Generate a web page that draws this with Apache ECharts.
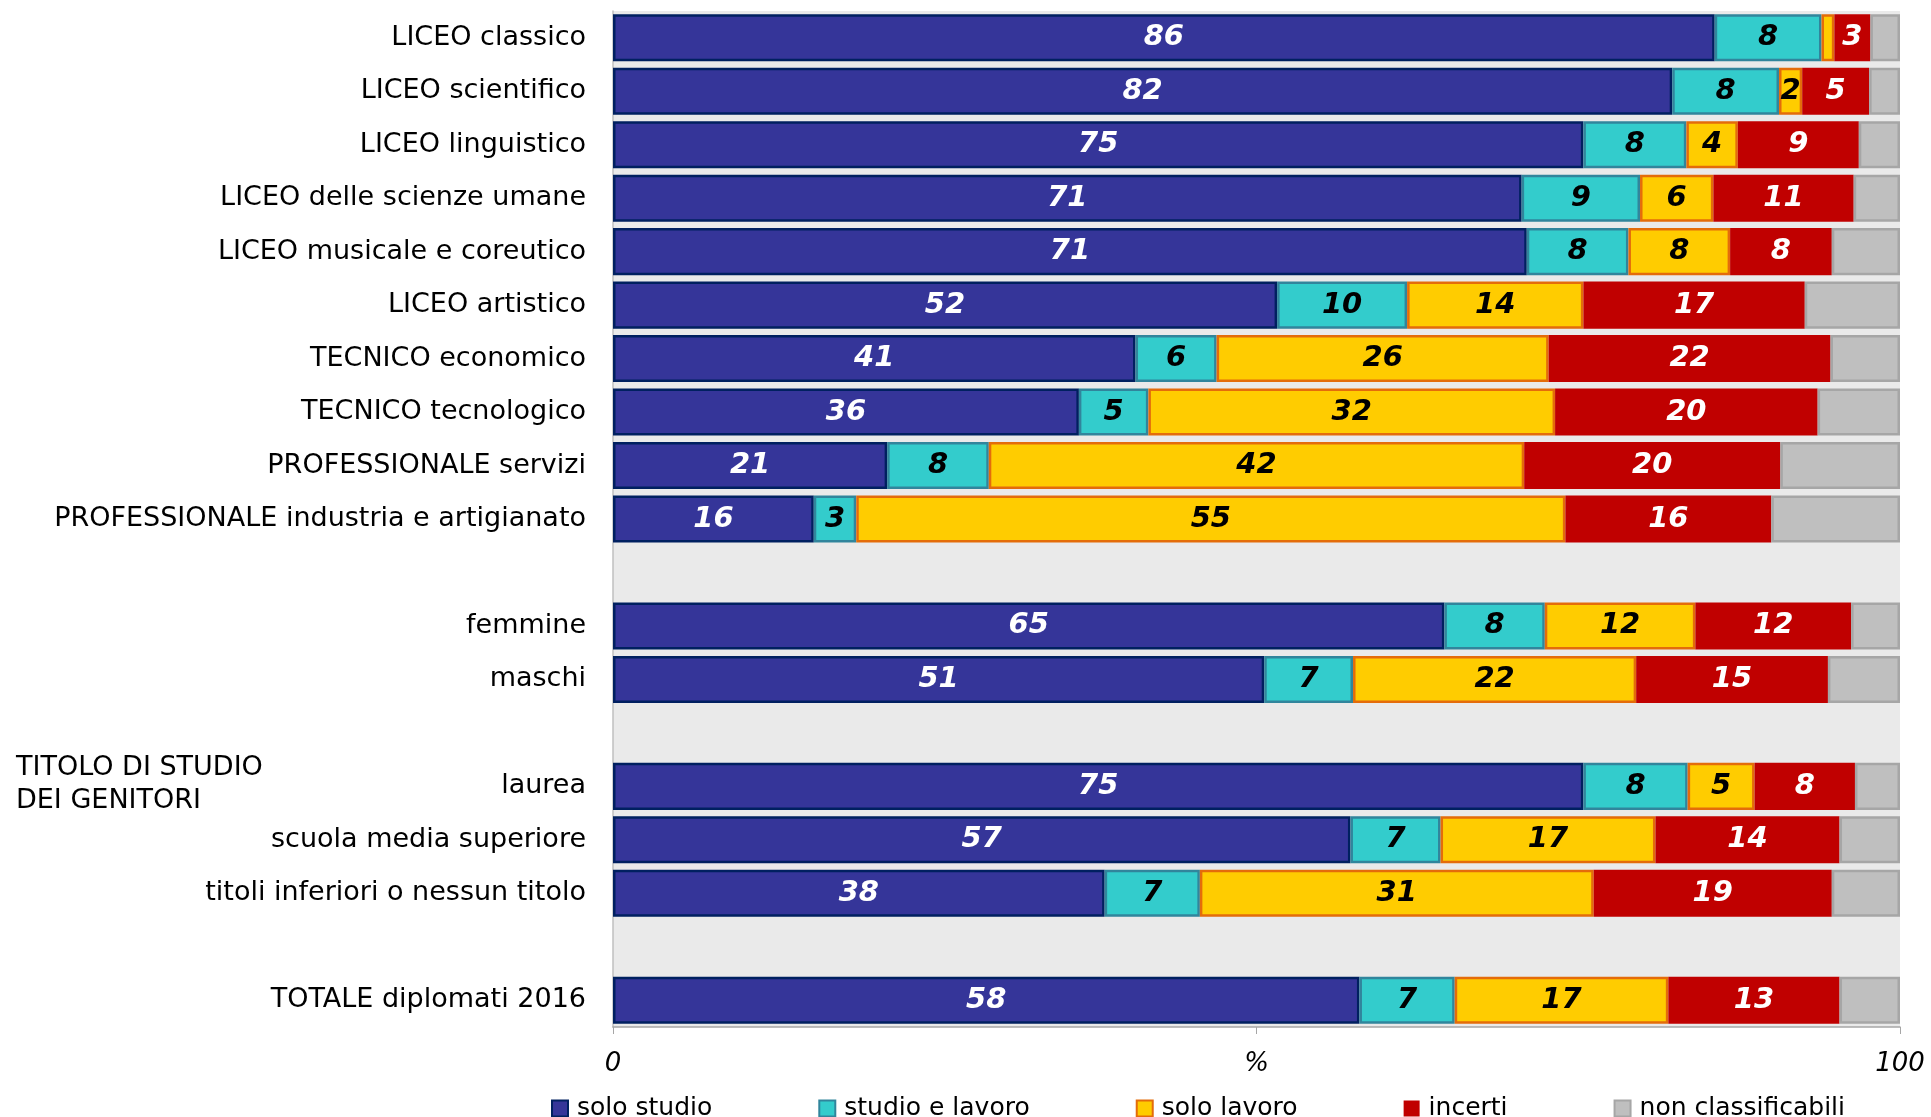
<!DOCTYPE html>
<html>
<head>
<meta charset="utf-8">
<script src="https://cdn.jsdelivr.net/npm/echarts@6/dist/echarts.min.js"></script>
<style>
html,body{margin:0;padding:0;background:#fff;}
#wrap{width:1931px;height:1117px;}
</style>
</head>
<body>
<div id="wrap"></div>
<script>
// categories, top to bottom ('' = empty separator row)
var categories = ['LICEO classico', 'LICEO scientifico', 'LICEO linguistico', 'LICEO delle scienze umane',
    'LICEO musicale e coreutico', 'LICEO artistico', 'TECNICO economico', 'TECNICO tecnologico',
    'PROFESSIONALE servizi', 'PROFESSIONALE industria e artigianato', '',
    'femmine', 'maschi', ' ',
    'laurea', 'scuola media superiore', 'titoli inferiori o nessun titolo', '  ',
    'TOTALE diplomati 2016'];

var soloStudio    = [85.6, 82.3, 75.4, 70.6, 71.0, 51.6, 40.6, 36.2, 21.3, 15.6, null, 64.6, 50.6, null, 75.4, 57.3, 38.2, null, 58.0];
var studioLavoro  = [8.3, 8.3, 8.0, 9.2, 7.9, 10.1, 6.3, 5.4, 7.9, 3.3, null, 7.8, 6.9, null, 8.1, 7.0, 7.4, null, 7.4];
var soloLavoro    = [1.0, 1.8, 4.0, 5.7, 7.9, 13.7, 25.8, 31.6, 41.6, 55.1, null, 11.7, 22.0, null, 5.2, 16.7, 30.6, null, 16.6];
var incerti       = [2.8, 5.2, 9.4, 10.9, 7.9, 17.2, 21.9, 20.4, 19.9, 16.0, null, 12.1, 14.9, null, 7.8, 14.3, 18.5, null, 13.3];
var nonClass      = [2.3, 2.4, 3.2, 3.6, 5.3, 7.4, 5.4, 6.4, 9.3, 10.0, null, 3.8, 5.6, null, 3.5, 4.7, 5.3, null, 4.7];

var xTicks = {0: '0', 50: '%', 100: '100'};

var FONT = 'DejaVu Sans';

function mkLabel(color) {
    return {
        show: true,
        position: 'inside',
        color: color,
        fontFamily: FONT,
        fontSize: 29,
        fontWeight: 'bold',
        fontStyle: 'italic',
        formatter: function(p) {
            if (p.value == null || p.value < 1.5) return '';
            return Math.round(p.value);
        }
    };
}

function mkSeries(name, data, fill, border, labelColor) {
    return {
        name: name,
        type: 'bar',
        stack: 'tot',
        data: data,
        barCategoryGap: '12%',
        itemStyle: {color: fill, borderColor: border, borderWidth: border ? 2.5 : 0},
        label: labelColor ? mkLabel(labelColor) : {show: false},
        emphasis: {disabled: true}
    };
}

var myChart = echarts.init(document.getElementById('wrap'));
var option = {
    animation: false,
    textStyle: {fontFamily: FONT},
    grid: {
        left: 613, right: 31, top: 11, bottom: 90,
        show: true, backgroundColor: '#EAEAEA', borderWidth: 0
    },
    legend: {
        left: 546,
        top: 1091,
        itemWidth: 16,
        itemHeight: 16,
        itemGap: 106,
        icon: 'rect',
        textStyle: {fontSize: 25, color: '#000', fontFamily: FONT, padding: [0, 0, 0, 4]},
        data: ['solo studio', 'studio e lavoro', 'solo lavoro', 'incerti', 'non classificabili']
    },
    xAxis: {
        type: 'value',
        min: 0,
        max: 100,
        interval: 50,
        splitLine: {show: false},
        axisLine: {show: true, lineStyle: {color: '#A6A6A6', width: 1.5}},
        axisTick: {show: true, length: 7, lineStyle: {color: '#A6A6A6'}},
        axisLabel: {
            fontSize: 26, fontStyle: 'italic', color: '#000', margin: 24, fontFamily: FONT,
            formatter: function(v) { return xTicks[v] != null ? xTicks[v] : ''; }
        }
    },
    yAxis: {
        type: 'category',
        inverse: true,
        data: categories,
        axisTick: {show: false},
        axisLine: {show: true, lineStyle: {color: '#BFBFBF', width: 1.5}},
        axisLabel: {fontSize: 27, color: '#000', margin: 27, fontFamily: FONT, interval: 0}
    },
    graphic: [{
        type: 'text',
        left: 16,
        top: 751,
        style: {
            text: 'TITOLO DI STUDIO\nDEI GENITORI',
            font: '27px "DejaVu Sans"',
            fill: '#000',
            lineHeight: 33
        }
    }],
    series: [
        mkSeries('solo studio', soloStudio, '#353599', '#002060', '#fff'),
        mkSeries('studio e lavoro', studioLavoro, '#33CCCC', '#31859C', '#000'),
        mkSeries('solo lavoro', soloLavoro, '#FFCC00', '#E46C0A', '#000'),
        mkSeries('incerti', incerti, '#C00000', null, '#fff'),
        mkSeries('non classificabili', nonClass, '#BFBFBF', '#A6A6A6', null)
    ]
};
myChart.setOption(option);
</script>
</body>
</html>
